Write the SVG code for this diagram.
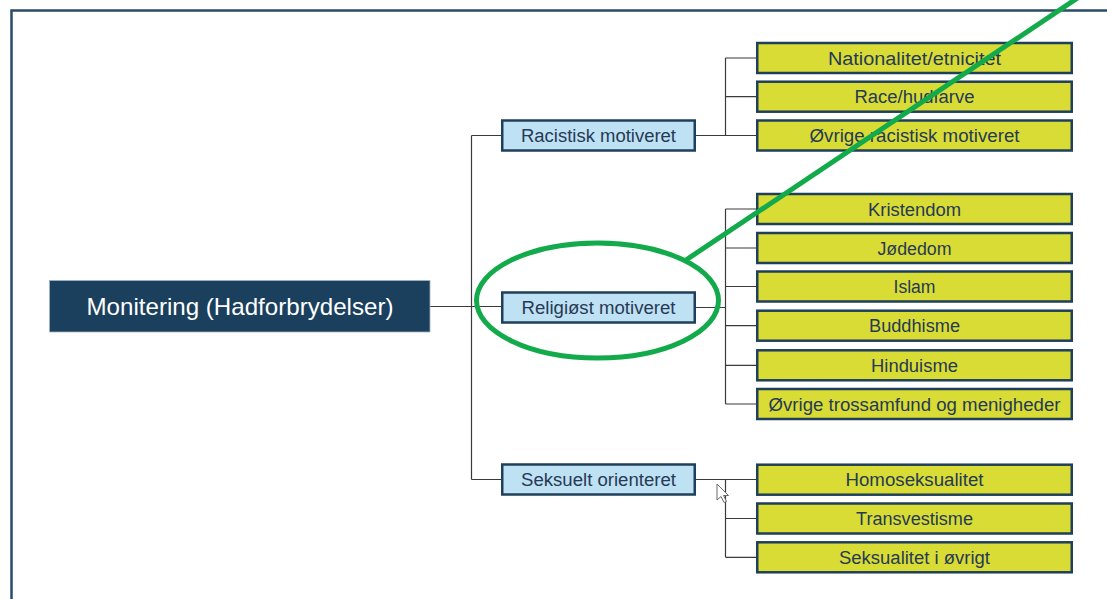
<svg xmlns="http://www.w3.org/2000/svg" width="1107" height="599" viewBox="0 0 1107 599">
<style>
.frame{fill:none;stroke:#2b4b69;stroke-width:2.5}
.root{fill:#1b405e;stroke:#9fb3c4;stroke-width:0.8}
.roottxt{font-family:"Liberation Sans",Arial,sans-serif;font-size:24px;fill:#ffffff;text-anchor:middle}
.cat{fill:#bfe1f4;stroke:#1f3f5a;stroke-width:2.5}
.leaf{fill:#d9dc34;stroke:#1f3f5a;stroke-width:2.5}
.t{font-family:"Liberation Sans",Arial,sans-serif;font-size:18px;fill:#263a55;text-anchor:middle}
.conn{fill:none;stroke:#3a3a3a;stroke-width:1.2}
.mark{fill:none;stroke:#12aa4a;stroke-width:5}
</style>
<rect width="1107" height="599" fill="#ffffff"/>
<rect class="frame" x="11.5" y="10.5" width="1110" height="600"/>

<g id="connectors">
<path class="conn" d="M430 306.5H501M471.5 135.5V479.5M471.5 135.5H502M471.5 479.5H502"/>
<path class="conn" d="M696 135.5H757M725.5 58V135.5M725.5 58H757M725.5 96.7H757"/>
<path class="conn" d="M696 307.5H725.5M725.5 209V404M725.5 209H757M725.5 248H757M725.5 286.5H757M725.5 325.7H757M725.5 365.3H757M725.5 404H757"/>
<path class="conn" d="M696 479.5H757M725.5 479.5V557.3M725.5 518.5H757M725.5 557.3H757"/>
</g>

<g id="root"><rect class="root" x="49.5" y="280.5" width="380.5" height="51.5"/><text class="roottxt" x="240" y="315" textLength="307" lengthAdjust="spacingAndGlyphs">Monitering (Hadforbrydelser)</text></g>

<g id="racistisk"><rect class="cat" x="502.25" y="120.5" width="192.5" height="30"/><text class="t" x="598.5" y="142" textLength="155" lengthAdjust="spacingAndGlyphs">Racistisk motiveret</text></g>
<g id="religiost"><rect class="cat" x="502.25" y="292.5" width="192.5" height="30"/><text class="t" x="598.5" y="314" textLength="154" lengthAdjust="spacingAndGlyphs">Religiøst motiveret</text></g>
<g id="seksuelt"><rect class="cat" x="502.25" y="464.5" width="192.5" height="30"/><text class="t" x="598.5" y="486" textLength="155" lengthAdjust="spacingAndGlyphs">Seksuelt orienteret</text></g>

<g id="nationalitet"><rect class="leaf" x="757.25" y="43" width="314.5" height="30"/><text class="t" x="914.5" y="64.5" textLength="173" lengthAdjust="spacingAndGlyphs">Nationalitet/etnicitet</text></g>
<g id="race"><rect class="leaf" x="757.25" y="81.7" width="314.5" height="30"/><text class="t" x="914.5" y="103.2" textLength="120" lengthAdjust="spacingAndGlyphs">Race/hudfarve</text></g>
<g id="ovrige-racistisk"><rect class="leaf" x="757.25" y="120.5" width="314.5" height="30"/><text class="t" x="914.5" y="142" textLength="210" lengthAdjust="spacingAndGlyphs">Øvrige racistisk motiveret</text></g>

<g id="kristendom"><rect class="leaf" x="757.25" y="194" width="314.5" height="30"/><text class="t" x="914.5" y="215.5" textLength="93" lengthAdjust="spacingAndGlyphs">Kristendom</text></g>
<g id="jodedom"><rect class="leaf" x="757.25" y="233" width="314.5" height="30"/><text class="t" x="914.5" y="254.5" textLength="74" lengthAdjust="spacingAndGlyphs">Jødedom</text></g>
<g id="islam"><rect class="leaf" x="757.25" y="271.5" width="314.5" height="30"/><text class="t" x="914.5" y="293" textLength="42" lengthAdjust="spacingAndGlyphs">Islam</text></g>
<g id="buddhisme"><rect class="leaf" x="757.25" y="310.7" width="314.5" height="30"/><text class="t" x="914.5" y="332.2" textLength="91" lengthAdjust="spacingAndGlyphs">Buddhisme</text></g>
<g id="hinduisme"><rect class="leaf" x="757.25" y="350.3" width="314.5" height="30"/><text class="t" x="914.5" y="371.8" textLength="87" lengthAdjust="spacingAndGlyphs">Hinduisme</text></g>
<g id="ovrige-tros"><rect class="leaf" x="757.25" y="389" width="314.5" height="30"/><text class="t" x="914.5" y="410.5" textLength="292" lengthAdjust="spacingAndGlyphs">Øvrige trossamfund og menigheder</text></g>

<g id="homoseksualitet"><rect class="leaf" x="757.25" y="464.7" width="314.5" height="30"/><text class="t" x="914.5" y="486.2" textLength="138" lengthAdjust="spacingAndGlyphs">Homoseksualitet</text></g>
<g id="transvestisme"><rect class="leaf" x="757.25" y="503.5" width="314.5" height="30"/><text class="t" x="914.5" y="525" textLength="117" lengthAdjust="spacingAndGlyphs">Transvestisme</text></g>
<g id="seksualitet"><rect class="leaf" x="757.25" y="542.3" width="314.5" height="30"/><text class="t" x="914.5" y="563.8" textLength="151" lengthAdjust="spacingAndGlyphs">Seksualitet i øvrigt</text></g>

<polygon points="717,484 717,500 721,496.5 724,502.5 726.5,501.5 723.5,495.5 728.5,495.5" fill="#ffffff" stroke="#6a6a6a" stroke-width="1"/>

<g id="highlight">
<ellipse class="mark" cx="597.5" cy="300.5" rx="121" ry="57.5"/>
<line class="mark" x1="1079" y1="-3" x2="686" y2="260"/>
</g>
</svg>
